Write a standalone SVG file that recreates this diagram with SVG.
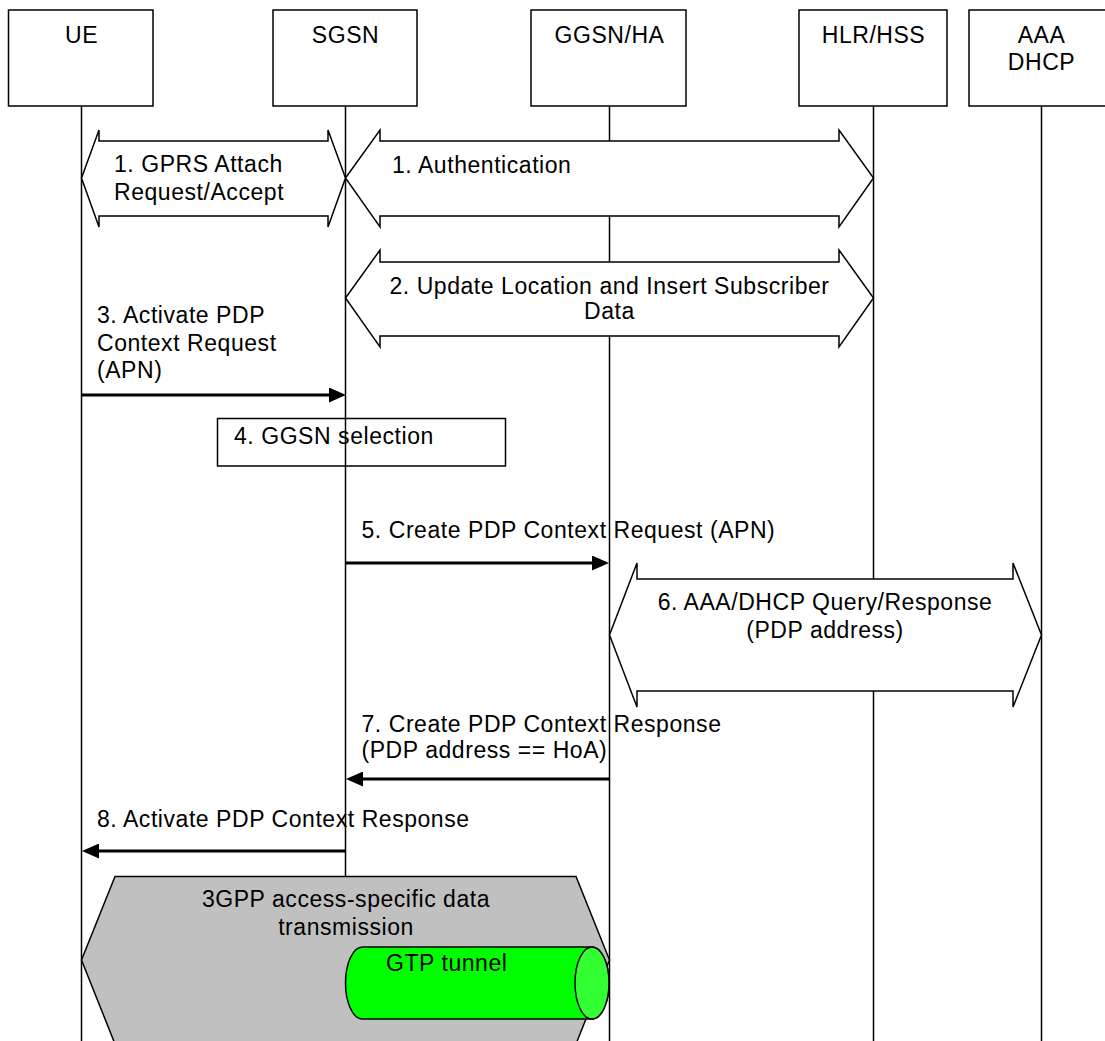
<svg xmlns="http://www.w3.org/2000/svg" width="1105" height="1041" viewBox="0 0 1105 1041">
<style>
  text { font-family: "Liberation Sans", Arial, sans-serif; font-size: 23px; letter-spacing: 0.55px; fill: #000; }
  .c { text-anchor: middle; }
  .box { fill: #fff; stroke: #000; stroke-width: 1.5; }
  .life { stroke: #000; stroke-width: 1.5; fill: none; }
  .dbl { fill: #fff; stroke: #000; stroke-width: 1.5; stroke-linejoin: miter; }
  .msg { stroke: #000; stroke-width: 3; fill: none; marker-end: url(#head); }
</style>
<defs>
  <marker id="head" markerUnits="userSpaceOnUse" markerWidth="17" markerHeight="15" refX="6" refY="7.5" orient="auto">
    <path d="M0,0 L17,7.5 L0,15 Z" fill="#000"/>
  </marker>
</defs>
<rect width="1105" height="1041" fill="#fff"/>

<g id="lifelines">
  <line class="life" x1="81.5" y1="106" x2="81.5" y2="1041"/>
  <line class="life" x1="345.5" y1="106" x2="345.5" y2="1041"/>
  <line class="life" x1="609.5" y1="106" x2="609.5" y2="1041"/>
  <line class="life" x1="873.5" y1="106" x2="873.5" y2="1041"/>
  <line class="life" x1="1041.5" y1="106" x2="1041.5" y2="1041"/>
</g>

<g id="node-UE">
  <rect class="box" x="8.5" y="10" width="144.5" height="96"/>
  <text class="c" x="81.5" y="43">UE</text>
</g>
<g id="node-SGSN">
  <rect class="box" x="273" y="10" width="144" height="96"/>
  <text class="c" x="345.5" y="43">SGSN</text>
</g>
<g id="node-GGSN">
  <rect class="box" x="531" y="10" width="155" height="96"/>
  <text class="c" x="609.5" y="43">GGSN/HA</text>
</g>
<g id="node-HLR">
  <rect class="box" x="799" y="10" width="148" height="96"/>
  <text class="c" x="873.5" y="43">HLR/HSS</text>
</g>
<g id="node-AAA">
  <rect class="box" x="969" y="10" width="150" height="96"/>
  <text class="c" x="1041.5" y="43">AAA</text>
  <text class="c" x="1041.5" y="70">DHCP</text>
</g>

<g id="connectors">
  <g id="msg1-attach">
    <polygon class="dbl" points="81.5,178 99,130 99,141 328,141 328,130 345.5,178 328,227 328,216 99,216 99,227"/>
    <text x="114" y="172">1. GPRS Attach</text>
    <text x="114" y="199.5">Request/Accept</text>
  </g>
  <g id="msg1-auth">
    <polygon class="dbl" points="345.5,178 380,130 380,141 839,141 839,130 873.5,178 839,227 839,216 380,216 380,227"/>
    <text x="392" y="173">1. Authentication</text>
  </g>
  <g id="msg2-update">
    <polygon class="dbl" points="345.5,298 380,250 380,262 839,262 839,250 873.5,298 839,347 839,336 380,336 380,347"/>
    <text class="c" x="609.5" y="293.5">2. Update Location and Insert Subscriber</text>
    <text class="c" x="609.5" y="318.5">Data</text>
  </g>
  <g id="msg3">
    <line class="msg" x1="81.5" y1="395" x2="335" y2="395"/>
    <text x="97" y="322.5">3. Activate PDP</text>
    <text x="97" y="350.5">Context Request</text>
    <text x="97" y="377.5">(APN)</text>
  </g>
  <g id="msg5">
    <line class="msg" x1="345.5" y1="563" x2="598" y2="563"/>
    <text x="361.5" y="538">5. Create PDP Context Request (APN)</text>
  </g>
  <g id="msg6">
    <polygon class="dbl" points="609.5,635 637,563 637,579 1013,579 1013,563 1041.5,635 1013,707 1013,691 637,691 637,707"/>
    <text class="c" x="825" y="610">6. AAA/DHCP Query/Response</text>
    <text class="c" x="825" y="638">(PDP address)</text>
  </g>
  <g id="msg7">
    <line class="msg" x1="609.5" y1="779" x2="357" y2="779"/>
    <text x="361.5" y="731.5">7. Create PDP Context Response</text>
    <text x="361.5" y="758">(PDP address == HoA)</text>
  </g>
  <g id="msg8">
    <line class="msg" x1="345.5" y1="851" x2="93" y2="851"/>
    <text x="97" y="826.5">8. Activate PDP Context Response</text>
  </g>
</g>

<g id="step4">
  <rect x="217.5" y="418.5" width="288" height="47.5" fill="none" stroke="#000" stroke-width="1.5"/>
  <text x="234" y="443.5">4. GGSN selection</text>
</g>

<g id="data-transmission">
  <polygon points="81.5,960 115,876.5 576,876.5 609.5,960 576,1044 115,1044" fill="#c0c0c0" stroke="#000" stroke-width="1.5"/>
  <text class="c" x="346" y="907">3GPP access-specific data</text>
  <text class="c" x="346" y="935">transmission</text>
</g>

<g id="gtp-tunnel">
  <path d="M362.5,947 L592,947 A17,36 0 0 1 592,1019 L362.5,1019 A17,36 0 0 1 362.5,947 Z" fill="#00ff00" stroke="#000" stroke-width="1.5"/>
  <ellipse cx="592" cy="983" rx="17" ry="36" fill="#33ff33" stroke="#000" stroke-width="1.5"/>
  <text x="386" y="970.5">GTP tunnel</text>
</g>
</svg>
